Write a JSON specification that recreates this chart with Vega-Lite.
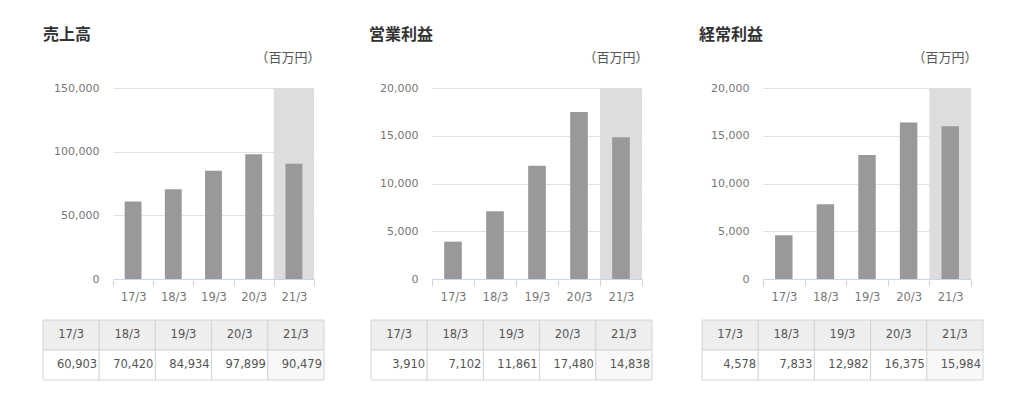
{
  "$schema": "https://vega.github.io/schema/vega-lite/v6.json",
  "background": "white",
  "padding": {"left": 42, "top": 27, "right": 0, "bottom": 0},
  "datasets": {
    "sales": [
      {"period": "17/3", "value": 60903},
      {"period": "18/3", "value": 70420},
      {"period": "19/3", "value": 84934},
      {"period": "20/3", "value": 97899},
      {"period": "21/3", "value": 90479}
    ],
    "op": [
      {"period": "17/3", "value": 3910},
      {"period": "18/3", "value": 7102},
      {"period": "19/3", "value": 11861},
      {"period": "20/3", "value": 17480},
      {"period": "21/3", "value": 14838}
    ],
    "ord": [
      {"period": "17/3", "value": 4578},
      {"period": "18/3", "value": 7833},
      {"period": "19/3", "value": 12982},
      {"period": "20/3", "value": 16375},
      {"period": "21/3", "value": 15984}
    ]
  },
  "spacing": 16,
  "vconcat": [
    {
      "spacing": 49,
      "hconcat": [
        {
          "width": 201, "height": 191,
          "data": {"name": "sales"},
          "title": {"text": "売上高", "dx": -70},
          "encoding": {
            "x": {"field": "period", "type": "nominal", "title": null, "scale": {"paddingInner": 0, "paddingOuter": 0}}
          },
          "layer": [
            {
              "transform": [{"filter": "datum.period === '21/3'"}],
              "mark": {"type": "rect", "color": "#dddddd"},
              "encoding": {
                "y": {"datum": 150000, "type": "quantitative", "title": "（百万円）",
                  "axis": {"values": [0, 50000, 100000, 150000], "format": ",.0f", "titleX": 207}},
                "y2": {"datum": 0}
              }
            },
            {
              "mark": {"type": "bar", "color": "#999999", "width": {"band": 0.42}},
              "encoding": {
                "y": {"field": "value", "type": "quantitative", "title": "（百万円）",
                  "scale": {"domain": [0, 150000], "nice": false},
                  "axis": {"values": [0, 50000, 100000, 150000], "format": ",.0f", "titleX": 207}}
              }
            }
          ]
        },
        {
          "spacing": 51,
          "hconcat": [
            {
              "width": 210, "height": 191,
              "data": {"name": "op"},
              "title": {"text": "営業利益", "dx": -63},
              "encoding": {
                "x": {"field": "period", "type": "nominal", "title": null, "scale": {"paddingInner": 0, "paddingOuter": 0}}
              },
              "layer": [
                {
                  "transform": [{"filter": "datum.period === '21/3'"}],
                  "mark": {"type": "rect", "color": "#dddddd"},
                  "encoding": {
                    "y": {"datum": 20000, "type": "quantitative", "title": "（百万円）",
                      "axis": {"values": [0, 5000, 10000, 15000, 20000], "format": ",.0f", "titleX": 216}},
                    "y2": {"datum": 0}
                  }
                },
                {
                  "mark": {"type": "bar", "color": "#999999", "width": {"band": 0.42}},
                  "encoding": {
                    "y": {"field": "value", "type": "quantitative", "title": "（百万円）",
                      "scale": {"domain": [0, 20000], "nice": false},
                      "axis": {"values": [0, 5000, 10000, 15000, 20000], "format": ",.0f", "titleX": 216}}
                  }
                }
              ]
            },
            {
              "width": 208, "height": 191,
              "data": {"name": "ord"},
              "title": {"text": "経常利益", "dx": -64},
              "encoding": {
                "x": {"field": "period", "type": "nominal", "title": null, "scale": {"paddingInner": 0, "paddingOuter": 0}}
              },
              "layer": [
                {
                  "transform": [{"filter": "datum.period === '21/3'"}],
                  "mark": {"type": "rect", "color": "#dddddd"},
                  "encoding": {
                    "y": {"datum": 20000, "type": "quantitative", "title": "（百万円）",
                      "axis": {"values": [0, 5000, 10000, 15000, 20000], "format": ",.0f", "titleX": 214}},
                    "y2": {"datum": 0}
                  }
                },
                {
                  "mark": {"type": "bar", "color": "#999999", "width": {"band": 0.42}},
                  "encoding": {
                    "y": {"field": "value", "type": "quantitative", "title": "（百万円）",
                      "scale": {"domain": [0, 20000], "nice": false},
                      "axis": {"values": [0, 5000, 10000, 15000, 20000], "format": ",.0f", "titleX": 214}}
                  }
                }
              ]
            }
          ]
        }
      ]
    },
    {
      "spacing": 45,
      "hconcat": [
        {
          "width": 201, "height": 60,
          "data": {"name": "sales"},
          "encoding": {
            "x": {"field": "period", "type": "nominal", "axis": null, "scale": {"range": [-70, 211], "paddingInner": 0, "paddingOuter": 0}}
          },
          "layer": [
            {
              "mark": {"type": "rect", "fill": "#eeeeee", "stroke": "#d4d4d4", "strokeWidth": 1},
              "encoding": {"y": {"datum": "h", "type": "nominal", "axis": null, "scale": {"domain": ["h", "v"], "paddingInner": 0, "paddingOuter": 0}}}
            },
            {
              "mark": {"type": "rect", "stroke": "#d4d4d4", "strokeWidth": 1},
              "encoding": {
                "y": {"datum": "v", "type": "nominal"},
                "fill": {"condition": {"test": "datum.period === '21/3'", "value": "#f8f8f8"}, "value": "#ffffff"}
              }
            },
            {
              "mark": {"type": "text", "font": "DejaVu Sans", "fontSize": 11.5, "color": "#555555"},
              "encoding": {"y": {"datum": "h", "type": "nominal"}, "text": {"field": "period"}}
            },
            {
              "mark": {"type": "text", "font": "DejaVu Sans", "fontSize": 11.5, "color": "#555555", "align": "right", "dx": -2},
              "encoding": {
                "x": {"field": "period", "type": "nominal", "bandPosition": 1},
                "y": {"datum": "v", "type": "nominal"},
                "text": {"field": "value", "type": "quantitative", "format": ","}
              }
            }
          ]
        },
        {
          "spacing": 48,
          "hconcat": [
            {
              "width": 210, "height": 60,
              "data": {"name": "op"},
              "encoding": {
                "x": {"field": "period", "type": "nominal", "axis": null, "scale": {"range": [-62, 219], "paddingInner": 0, "paddingOuter": 0}}
              },
              "layer": [
                {
                  "mark": {"type": "rect", "fill": "#eeeeee", "stroke": "#d4d4d4", "strokeWidth": 1},
                  "encoding": {"y": {"datum": "h", "type": "nominal", "axis": null, "scale": {"domain": ["h", "v"], "paddingInner": 0, "paddingOuter": 0}}}
                },
                {
                  "mark": {"type": "rect", "stroke": "#d4d4d4", "strokeWidth": 1},
                  "encoding": {
                    "y": {"datum": "v", "type": "nominal"},
                    "fill": {"condition": {"test": "datum.period === '21/3'", "value": "#f8f8f8"}, "value": "#ffffff"}
                  }
                },
                {
                  "mark": {"type": "text", "font": "DejaVu Sans", "fontSize": 11.5, "color": "#555555"},
                  "encoding": {"y": {"datum": "h", "type": "nominal"}, "text": {"field": "period"}}
                },
                {
                  "mark": {"type": "text", "font": "DejaVu Sans", "fontSize": 11.5, "color": "#555555", "align": "right", "dx": -2},
                  "encoding": {
                    "x": {"field": "period", "type": "nominal", "bandPosition": 1},
                    "y": {"datum": "v", "type": "nominal"},
                    "text": {"field": "value", "type": "quantitative", "format": ","}
                  }
                }
              ]
            },
            {
              "width": 208, "height": 60,
              "data": {"name": "ord"},
              "encoding": {
                "x": {"field": "period", "type": "nominal", "axis": null, "scale": {"range": [-63, 218], "paddingInner": 0, "paddingOuter": 0}}
              },
              "layer": [
                {
                  "mark": {"type": "rect", "fill": "#eeeeee", "stroke": "#d4d4d4", "strokeWidth": 1},
                  "encoding": {"y": {"datum": "h", "type": "nominal", "axis": null, "scale": {"domain": ["h", "v"], "paddingInner": 0, "paddingOuter": 0}}}
                },
                {
                  "mark": {"type": "rect", "stroke": "#d4d4d4", "strokeWidth": 1},
                  "encoding": {
                    "y": {"datum": "v", "type": "nominal"},
                    "fill": {"condition": {"test": "datum.period === '21/3'", "value": "#f8f8f8"}, "value": "#ffffff"}
                  }
                },
                {
                  "mark": {"type": "text", "font": "DejaVu Sans", "fontSize": 11.5, "color": "#555555"},
                  "encoding": {"y": {"datum": "h", "type": "nominal"}, "text": {"field": "period"}}
                },
                {
                  "mark": {"type": "text", "font": "DejaVu Sans", "fontSize": 11.5, "color": "#555555", "align": "right", "dx": -2},
                  "encoding": {
                    "x": {"field": "period", "type": "nominal", "bandPosition": 1},
                    "y": {"datum": "v", "type": "nominal"},
                    "text": {"field": "value", "type": "quantitative", "format": ","}
                  }
                }
              ]
            }
          ]
        }
      ]
    }
  ],
  "config": {
    "view": {"stroke": null},
    "title": {"font": "Noto Sans CJK JP", "fontSize": 16, "fontWeight": "bold", "color": "#333333", "anchor": "start", "frame": "group", "offset": 8},
    "axisY": {
      "grid": true, "gridColor": "#e2e2e2", "domain": false, "ticks": false,
      "labelPadding": 14, "labelFont": "DejaVu Sans", "labelFontSize": 11, "labelColor": "#777777",
      "titleAngle": 0, "titleAlign": "right", "titleBaseline": "middle", "titleY": -31,
      "titleFont": "Noto Sans CJK JP", "titleFontSize": 13, "titleFontWeight": "normal", "titleColor": "#555555"
    },
    "axisX": {
      "grid": false, "domainColor": "#c9d6e3", "tickColor": "#c9d6e3", "tickBand": "extent", "tickSize": 7,
      "labelPadding": 5, "labelAngle": 0, "labelFont": "DejaVu Sans", "labelFontSize": 11.5, "labelColor": "#777777"
    }
  }
}
